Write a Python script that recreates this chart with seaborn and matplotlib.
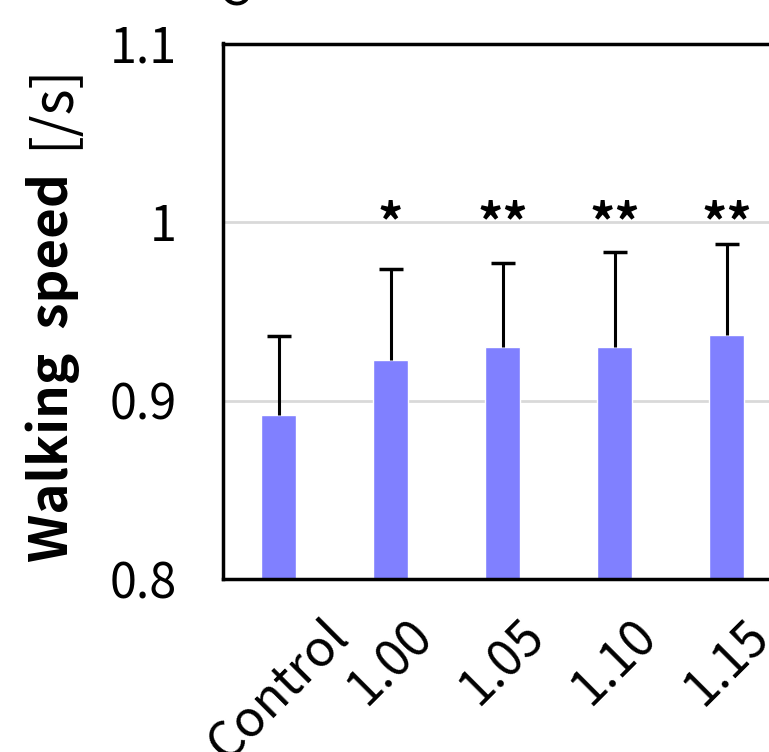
import matplotlib
matplotlib.use("Agg")
import matplotlib.pyplot as plt
import seaborn as sns
import numpy as np
import pandas as pd

categories = ["Control", "1.00", "1.05", "1.10", "1.15"]
means = [0.892, 0.923, 0.930, 0.930, 0.937]
sd_upper = [0.044, 0.051, 0.047, 0.053, 0.051]
stars = ["", "*", "**", "**", "**"]
yticks = [0.8, 0.9, 1.0, 1.1]
ytick_labels = ["0.8", "0.9", "1", "1.1"]

sns.set_style("white")
plt.rcParams["font.family"] = ["Noto Sans CJK JP", "DejaVu Sans"]
plt.rcParams["text.color"] = "black"
plt.rcParams["xtick.color"] = "black"
plt.rcParams["ytick.color"] = "black"
plt.rcParams["axes.labelcolor"] = "black"

W, H = 769, 752
fig = plt.figure(figsize=(W / 100, H / 100), dpi=100)
ax_left, ax_right, ax_top, ax_bottom = 222.5, 894.5, 43.5, 579.3
ax = fig.add_axes([ax_left / W, 1 - ax_bottom / H, (ax_right - ax_left) / W, (ax_bottom - ax_top) / H])

df = pd.DataFrame({"cond": categories, "speed": means})
sns.barplot(data=df, x="cond", y="speed", color="#8080ff", saturation=1,
            width=0.31, errorbar=None, ax=ax, zorder=2)
xs = np.arange(len(categories))
eb = ax.errorbar(xs, means, yerr=[np.zeros(len(means)), sd_upper], fmt="none",
                 ecolor="black", elinewidth=2.2, capsize=8.5, capthick=2.5, zorder=3)
caps = eb.lines[1]
if len(caps) == 2:
    caps[0].set_visible(False)

for x, s in zip(xs, stars):
    if s:
        ax.text(x, 0.998, s, ha="center", va="center", fontsize=36,
                fontweight="bold", color="black", zorder=4)

ax.set_xlim(-0.5, 5.5)
ax.set_ylim(0.8, 1.1)
ax.set_yticks(yticks)
ax.set_yticklabels(ytick_labels, fontsize=35)
ax.yaxis.grid(True, color="#d9d9d9", linewidth=2, zorder=0)
ax.set_axisbelow(True)
ax.tick_params(axis="y", length=0, pad=33)
ax.tick_params(axis="x", length=0, pad=22)
ax.set_xticks(xs)
ax.set_xticklabels(categories, fontsize=36, rotation=45, ha="center", va="top")
ax.set_xlabel("")
ax.set_ylabel("")
for sp in ["left", "bottom", "top"]:
    ax.spines[sp].set_color("black")
    ax.spines[sp].set_linewidth(2.5)
ax.spines["right"].set_visible(False)

fig.text(53 / W, 1 - 368 / H, "Walking  speed", rotation=90, ha="center", va="center",
         fontsize=38, fontweight="bold", color="black")
fig.text(52 / W, 1 - 106 / H, "[/s]", rotation=90, ha="center", va="center",
         fontsize=40, color="black")
fig.text(233 / W, 1 - 5 / H, "C", ha="center", va="baseline", fontsize=36,
         color="black")

fig.savefig("out.png", dpi=100)
